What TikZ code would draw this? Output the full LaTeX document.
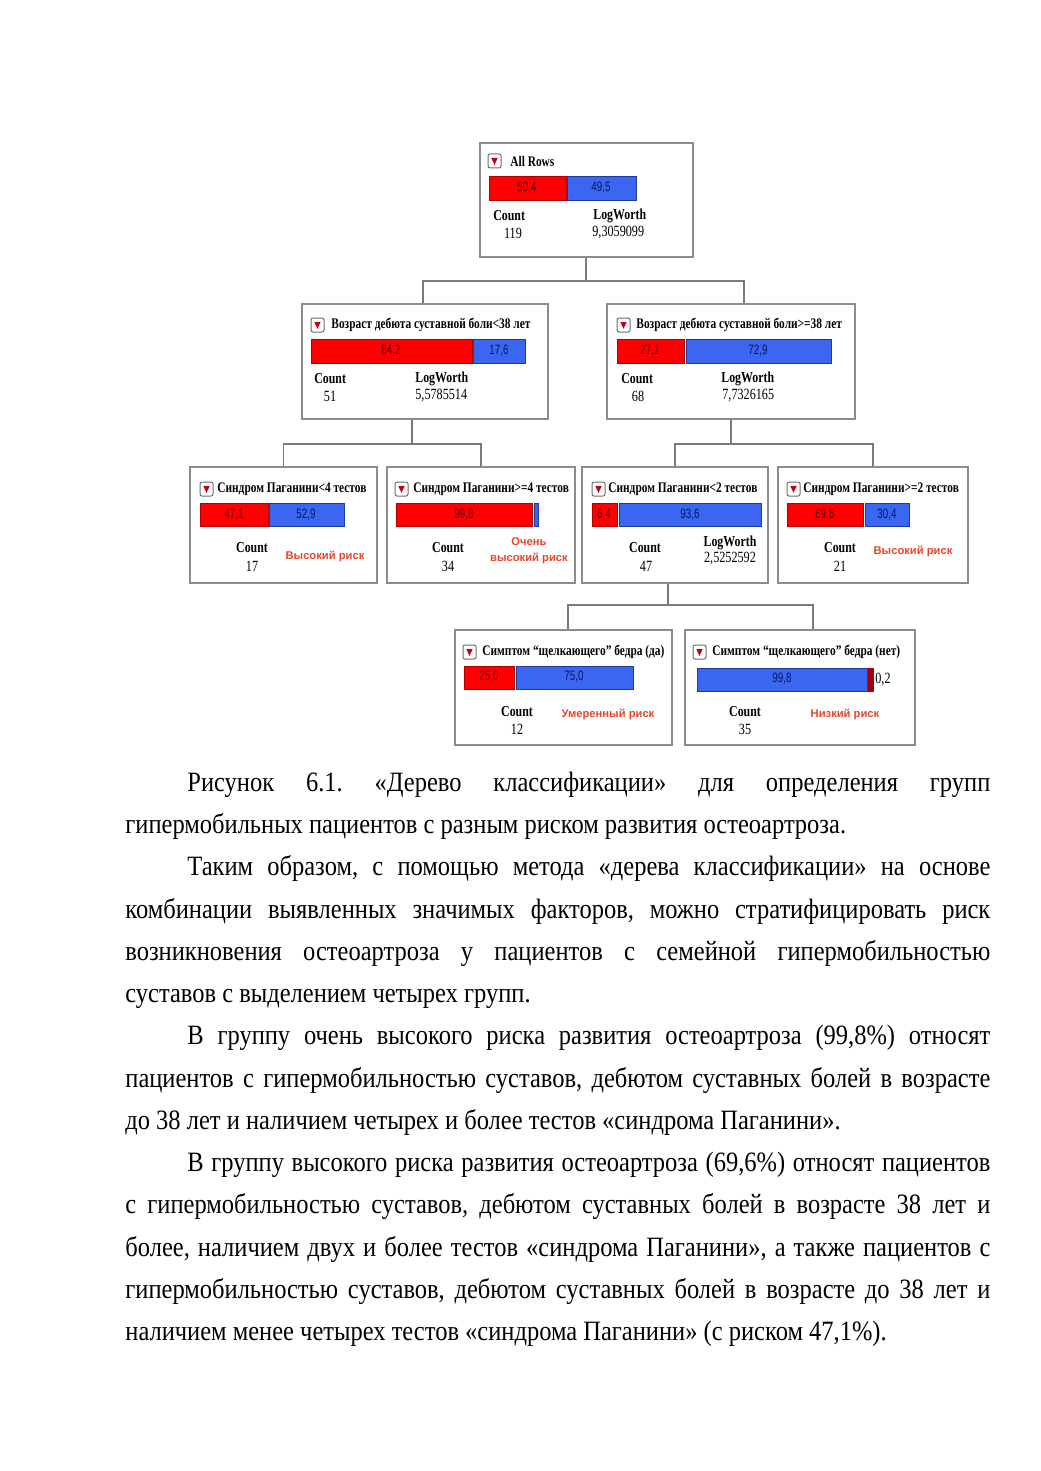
\documentclass[tikz,border=0pt]{standalone}
\usepackage{fontspec}
\setmainfont{Liberation Serif}
\newfontfamily\sansf{Liberation Sans}
\newfontfamily\condserif[FakeStretch=0.78]{Liberation Serif}
\newfontfamily\condsans[FakeStretch=0.72]{Liberation Sans}
\newfontfamily\bodyserif[FakeStretch=0.875]{Liberation Serif}
\usetikzlibrary{fit}
\definecolor{boxgray}{HTML}{8C8C8C}
\definecolor{linegray}{HTML}{7A7A7A}
\definecolor{barred}{HTML}{FF0000}
\definecolor{barredd}{HTML}{B00000}
\definecolor{barblue}{HTML}{3A66F2}
\definecolor{barblued}{HTML}{1E3C9C}
\definecolor{labred}{HTML}{5A0000}
\definecolor{labblue}{HTML}{081560}
\definecolor{riskcol}{HTML}{E8452C}
\definecolor{icongray}{HTML}{6E6E6E}
\definecolor{icored}{HTML}{C0001A}
\definecolor{sliverred}{HTML}{A00010}
\newcommand\tbox[5]{\path (#2,#3) coordinate (#1-a) (#4,#5) coordinate (#1-b);
  \node[treebox, fit=(#1-a)(#1-b)] (#1) {};}
\newcommand\jline[1]{\makebox[432.5pt][s]{#1}}
\newcommand\iline[1]{\makebox[401.5pt][s]{#1}}
\begin{document}
\begin{tikzpicture}[x=0.5pt,y=-0.5pt,
  treebox/.style={draw=boxgray, line width=0.9pt, inner sep=0pt},
  conn/.style={draw=linegray, line width=0.8pt},
  redbar/.style={fill=barred, draw=barredd, line width=0.4pt},
  bluebar/.style={fill=barblue, draw=barblued, line width=0.4pt},
  ttl/.style={anchor=west, inner sep=0pt, font=\condserif\bfseries\fontsize{7.3}{8}\selectfont},
  lbl/.style={anchor=west, inner sep=0pt, font=\condserif\bfseries\fontsize{7.6}{8}\selectfont},
  lblc/.style={inner sep=0pt, font=\condserif\bfseries\fontsize{7.6}{8}\selectfont},
  num/.style={anchor=west, inner sep=0pt, font=\condserif\fontsize{7.8}{8}\selectfont},
  numc/.style={inner sep=0pt, font=\condserif\fontsize{7.8}{8}\selectfont},
  rlab/.style={inner sep=0pt, font=\condsans\fontsize{6.8}{7}\selectfont, text=labred},
  blab/.style={inner sep=0pt, font=\condsans\fontsize{6.8}{7}\selectfont, text=labblue},
  risk/.style={inner sep=0pt, align=center, font=\sansf\bfseries\fontsize{5.6}{8}\selectfont, text=riskcol},
  body/.style={anchor=base west, inner sep=0pt, font=\bodyserif\fontsize{14}{16}\selectfont\frenchspacing},
  ddicon/.pic={\draw[icongray, fill=white, rounded corners=1pt, line width=0.5pt] (0,0) rectangle (13,14);
    \fill[icored] (3.3,4) -- (9.7,4) -- (6.5,10.8) -- cycle;}
]
\useasboundingbox (0,0) rectangle (1040,1471);
\fill[white] (0,0) rectangle (1040,1471);

% ---------- boxes ----------
\tbox{n0}{480}{143}{693}{257}
\tbox{n1}{302}{304}{548}{419}
\tbox{n2}{607}{304}{855}{419}
\tbox{n3}{190}{467}{377}{583}
\tbox{n4}{387}{467}{575}{583}
\tbox{n5}{582}{467}{768}{583}
\tbox{n6}{778}{467}{968}{583}
\tbox{n7}{455}{630}{672}{745}
\tbox{n8}{685}{630}{915}{745}

% ---------- connectors ----------
\coordinate (j0) at (586,281);
\coordinate (s1) at (423,0);
\coordinate (s2) at (744,0);
\draw[conn] (n0.south -| j0) -- (j0);
\draw[conn] (s1 |- n1.north) |- (j0) -| (s2 |- n2.north);

\coordinate (j1) at (412,444);
\draw[conn] (j1 |- n1.south) -- (j1);
\draw[conn] (n3.north) |- (j1) -| (n4.north);

\coordinate (j2) at (731,444);
\draw[conn] (j2 |- n2.south) -- (j2);
\draw[conn] (n5.north) |- (j2) -| (n6.north);

\coordinate (j3) at (668,605);
\coordinate (s7) at (568,0);
\coordinate (s8) at (813,0);
\draw[conn] (j3 |- n5.south) -- (j3);
\draw[conn] (s7 |- n7.north) |- (j3) -| (s8 |- n8.north);

% ---------- n0 ----------
\pic at (488,154) {ddicon};
\node[ttl] (n0t) at (510,162) {All Rows};
\filldraw[redbar] (489,176) rectangle (566,200);
\filldraw[bluebar] (567,176) rectangle (636,200);
\node[rlab] (n0r) at (527,188) {50,4};
\node[blab] (n0b) at (601,188) {49,5};
\node[lbl] (n0c) at (493,216) {Count};
\node[numc] (n0cv) at (513,233) {119};
\node[lbl] (n0l) at (593,216) {LogWorth};
\node[num] (n0lv) at (592,233) {9,3059099};

% ---------- n1 ----------
\pic at (311,318) {ddicon};
\node[ttl] (n1t) at (331,325) {Возраст дебюта суставной боли<38 лет};
\filldraw[redbar] (311,339) rectangle (472,363);
\filldraw[bluebar] (473,339) rectangle (525,363);
\node[rlab] (n1r) at (391,351) {84,2};
\node[blab] (n1b) at (499,351) {17,6};
\node[lbl] (n1c) at (314,379) {Count};
\node[numc] (n1cv) at (330,396) {51};
\node[lbl] (n1l) at (415,379) {LogWorth};
\node[num] (n1lv) at (415,396) {5,5785514};

% ---------- n2 ----------
\pic at (617,318) {ddicon};
\node[ttl] (n2t) at (636,325) {Возраст дебюта суставной боли>=38 лет};
\filldraw[redbar] (617,339) rectangle (684,363);
\filldraw[bluebar] (686,339) rectangle (831,363);
\node[rlab] (n2r) at (650,351) {27,1};
\node[blab] (n2b) at (758,351) {72,9};
\node[lbl] (n2c) at (621,379) {Count};
\node[numc] (n2cv) at (638,396) {68};
\node[lbl] (n2l) at (721,379) {LogWorth};
\node[num] (n2lv) at (722,396) {7,7326165};

% ---------- n3 ----------
\pic at (200,482) {ddicon};
\node[ttl] (n3t) at (217,489) {Синдром Паганини<4 тестов};
\filldraw[redbar] (200,503) rectangle (268,526);
\filldraw[bluebar] (269,503) rectangle (344,526);
\node[rlab] (n3r) at (234,515) {47,1};
\node[blab] (n3b) at (306,515) {52,9};
\node[lblc] (n3c) at (252,548) {Count};
\node[numc] (n3cv) at (252,566) {17};
\node[risk] (n3k) at (325,556) {Высокий риск};

% ---------- n4 ----------
\pic at (395,482) {ddicon};
\node[ttl] (n4t) at (413,489) {Синдром Паганини>=4 тестов};
\filldraw[redbar] (396,503) rectangle (532,526);
\filldraw[bluebar] (534,503) rectangle (538,526);
\node[rlab] (n4r) at (464,515) {99,8};
\node[lblc] (n4c) at (448,548) {Count};
\node[numc] (n4cv) at (448,566) {34};
\node[risk] (n4k) at (529,551) {Очень\\высокий риск};

% ---------- n5 ----------
\pic at (592,482) {ddicon};
\node[ttl] (n5t) at (608,489) {Синдром Паганини<2 тестов};
\filldraw[redbar] (592,503) rectangle (617,526);
\filldraw[bluebar] (619,503) rectangle (761,526);
\node[rlab] (n5r) at (604,515) {6,4};
\node[blab] (n5b) at (690,515) {93,6};
\node[lblc] (n5c) at (645,548) {Count};
\node[numc] (n5cv) at (646,566) {47};
\node[lblc] (n5l) at (730,543) {LogWorth};
\node[numc] (n5lv) at (730,559) {2,5252592};

% ---------- n6 ----------
\pic at (787,482) {ddicon};
\node[ttl] (n6t) at (803,489) {Синдром Паганини>=2 тестов};
\filldraw[redbar] (787,503) rectangle (863,526);
\filldraw[bluebar] (865,503) rectangle (909,526);
\node[rlab] (n6r) at (825,515) {69,6};
\node[blab] (n6b) at (887,515) {30,4};
\node[lblc] (n6c) at (840,548) {Count};
\node[numc] (n6cv) at (840,566) {21};
\node[risk] (n6k) at (913,551) {Высокий риск};

% ---------- n7 ----------
\pic at (463,645) {ddicon};
\node[ttl] (n7t) at (482,652) {Симптом “щелкающего” бедра (да)};
\filldraw[redbar] (464,666) rectangle (514,689);
\filldraw[bluebar] (516,666) rectangle (633,689);
\node[rlab] (n7r) at (489,677) {25,0};
\node[blab] (n7b) at (574,677) {75,0};
\node[lblc] (n7c) at (517,712) {Count};
\node[numc] (n7cv) at (517,729) {12};
\node[risk] (n7k) at (608,714) {Умеренный риск};

% ---------- n8 ----------
\pic at (693,645) {ddicon};
\node[ttl] (n8t) at (712,652) {Симптом “щелкающего” бедра (нет)};
\filldraw[bluebar] (697,668) rectangle (867,691);
\filldraw[fill=sliverred, draw=barredd, line width=0.4pt] (868,668) rectangle (873,691);
\node[blab] (n8b) at (782,679) {99,8};
\node[num] (n8s) at (875,680) {0,2};
\node[lblc] (n8c) at (745,712) {Count};
\node[numc] (n8cv) at (745,729) {35};
\node[risk] (n8k) at (845,714) {Низкий риск};

% ---------- body text ----------
\node[body] (t0) at (187,791) {\iline{Рисунок 6.1. «Дерево классификации» для определения групп}};
\node[body] (t1) at (125,833) {гипермобильных пациентов с разным риском развития остеоартроза.};
\node[body] (t2) at (187,875) {\iline{Таким образом, с помощью метода «дерева классификации» на основе}};
\node[body] (t3) at (125,918) {\jline{комбинации выявленных значимых факторов, можно стратифицировать риск}};
\node[body] (t4) at (125,960) {\jline{возникновения остеоартроза у пациентов с семейной гипермобильностью}};
\node[body] (t5) at (125,1002) {суставов с выделением четырех групп.};
\node[body] (t6) at (187,1044) {\iline{В группу очень высокого риска развития остеоартроза (99,8\%) относят}};
\node[body] (t7) at (125,1087) {\jline{пациентов с гипермобильностью суставов, дебютом суставных болей в возрасте}};
\node[body] (t8) at (125,1129) {до 38 лет и наличием четырех и более тестов «синдрома Паганини».};
\node[body] (t9) at (187,1171) {\iline{В группу высокого риска развития остеоартроза (69,6\%) относят пациентов}};
\node[body] (t10) at (125,1213) {\jline{с гипермобильностью суставов, дебютом суставных болей в возрасте 38 лет и}};
\node[body] (t11) at (125,1256) {\jline{более, наличием двух и более тестов «синдрома Паганини», а также пациентов с}};
\node[body] (t12) at (125,1298) {\jline{гипермобильностью суставов, дебютом суставных болей в возрасте до 38 лет и}};
\node[body] (t13) at (125,1340) {наличием менее четырех тестов «синдрома Паганини» (с риском 47,1\%).};
\end{tikzpicture}
\end{document}
